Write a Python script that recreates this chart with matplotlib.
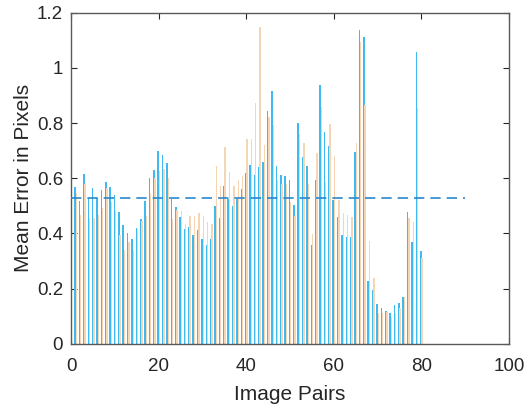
import matplotlib
matplotlib.use("Agg")
import matplotlib.pyplot as plt
import numpy as np

pairs = list(range(1, 81))
err_a = [0.569, 0.517, 0.617, 0.527, 0.563, 0.527, 0.559, 0.587, 0.567, 0.539,
         0.479, 0.430, 0.400, 0.380, 0.420, 0.453, 0.516, 0.600, 0.629, 0.700,
         0.686, 0.656, 0.526, 0.496, 0.459, 0.417, 0.425, 0.396, 0.411, 0.381,
         0.359, 0.381, 0.498, 0.456, 0.572, 0.524, 0.498, 0.524, 0.560, 0.619,
         0.647, 0.613, 0.641, 0.659, 0.845, 0.916, 0.644, 0.611, 0.607, 0.593,
         0.502, 0.799, 0.677, 0.645, 0.360, 0.593, 0.939, 0.766, 0.717, 0.521,
         0.460, 0.394, 0.388, 0.388, 0.696, 1.136, 1.111, 0.229, 0.195, 0.143,
         0.129, 0.121, 0.113, 0.141, 0.147, 0.171, 0.479, 0.370, 1.057, 0.336]
err_b = [0.545, 0.467, 0.578, 0.455, 0.457, 0.467, 0.491, 0.563, 0.515, 0.485,
         0.394, 0.340, 0.370, 0.340, 0.415, 0.447, 0.465, 0.544, 0.600, 0.627,
         0.635, 0.600, 0.453, 0.486, 0.480, 0.435, 0.462, 0.463, 0.475, 0.463,
         0.441, 0.435, 0.645, 0.571, 0.712, 0.622, 0.573, 0.593, 0.607, 0.741,
         0.744, 0.872, 1.148, 0.720, 0.821, 0.793, 0.595, 0.580, 0.580, 0.515,
         0.462, 0.762, 0.728, 0.579, 0.398, 0.690, 0.858, 0.587, 0.798, 0.680,
         0.520, 0.475, 0.467, 0.458, 0.728, 1.093, 0.864, 0.372, 0.237, 0.111,
         0.113, 0.117, 0.099, 0.111, 0.129, 0.170, 0.455, 0.442, 0.856, 0.310]
mean_err = 0.527
mean_span = [0, 90]

plt.rcParams['font.family'] = ['Liberation Sans', 'DejaVu Sans']
fig = plt.figure(figsize=(5.29, 4.07), dpi=100)
ax = fig.add_axes([0.135, 0.155, 0.827, 0.814])

x = np.array(pairs)
ax.bar(x - 0.143, err_a, width=0.36, color='#3fbaf0', edgecolor='none', zorder=2)
ax.bar(x + 0.143, err_b, width=0.32, color='#f6d5b4', edgecolor='none', zorder=2)
ax.plot(mean_span, [mean_err, mean_err], color='#2a86cc', lw=1.2,
        linestyle=(0, (6.2, 3.6)), zorder=3)

ax.set_xlim(0, 100)
ax.set_ylim(0, 1.2)
ax.set_xticks([0, 20, 40, 60, 80, 100])
ax.set_yticks([0, 0.2, 0.4, 0.6, 0.8, 1.0, 1.2])
ax.set_yticklabels(['0', '0.2', '0.4', '0.6', '0.8', '1', '1.2'])
ax.tick_params(direction='in', top=True, right=True, length=4, width=0.8,
               colors='#262626', labelsize=13.5)
ax.tick_params(axis='x', pad=10)
ax.tick_params(axis='y', pad=6)
for s in ax.spines.values():
    s.set_color('#5a5a5a')
    s.set_linewidth(1.0)
ax.set_xlabel('Image Pairs', fontsize=15, color='#262626', labelpad=7)
ax.set_ylabel('Mean Error in Pixels', fontsize=15, color='#262626', labelpad=3)

fig.savefig('out.png', dpi=100)
